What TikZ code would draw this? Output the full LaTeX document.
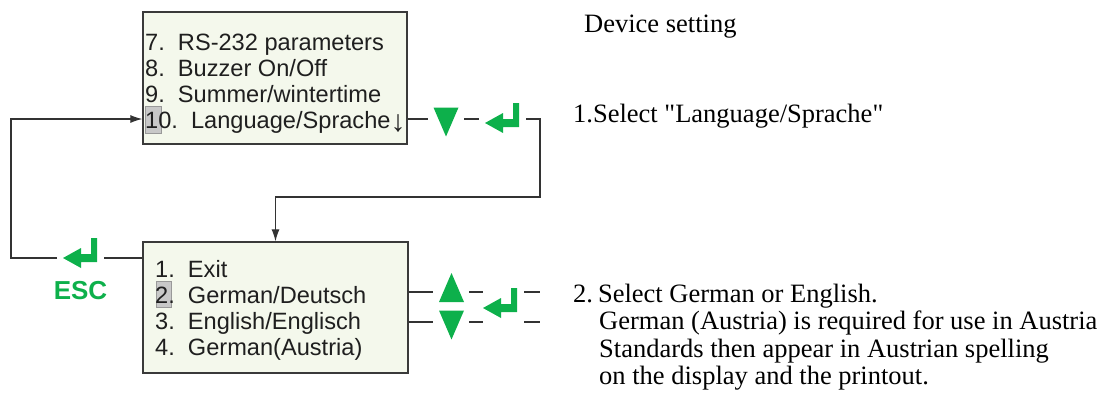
\documentclass[tikz,border=0pt]{standalone}
\usepackage{fontspec}
\setmainfont{Liberation Serif}
\setsansfont{Liberation Sans}
\usetikzlibrary{arrows.meta}
\definecolor{keygreen}{HTML}{0DB04B}
\definecolor{boxfill}{HTML}{F4F8EC}
\definecolor{boxline}{HTML}{3A3A3A}
\definecolor{linegray}{HTML}{333333}
\definecolor{cursorfill}{HTML}{C8C8C8}
\newcommand\dq{\XeTeXglyph\XeTeXcharglyph"22\relax}
\newcommand\scrolldown{\raisebox{-3pt}{\fontsize{30}{30}\selectfont ↓}}
\tikzset{
  menubox/.style={draw=boxline, fill=boxfill, line width=1.3pt, inner sep=0pt},
  menutext/.style={anchor=base west, inner sep=0pt, text=black!88, font=\sffamily\fontsize{23.6}{26}\selectfont},
  notetext/.style={anchor=base west, inner sep=0pt, font=\rmfamily\fontsize{26.5}{27}\selectfont},
  cursorbox/.style={fill=cursorfill, draw=black!40, line width=0.9pt},
  wire/.style={draw=linegray, line width=1.2pt},
  flow/.style={wire, -{Latex[length=12pt,width=8pt]}},
  downkey/.pic={\fill[keygreen] (-12.5,-14.5) -- (12.5,-14.5) -- (0,14.5) -- cycle;},
  upkey/.pic={\fill[keygreen] (-12.5,14.5) -- (12.5,14.5) -- (0,-14.5) -- cycle;},
  enterkey/.pic={\fill[keygreen] (0,0) -- (18,-10) -- (18,-4) -- (28,-4) -- (28,-20)
    -- (34,-20) -- (34,4) -- (18,4) -- (18,10) -- cycle;}
}
\begin{document}
\begin{tikzpicture}[x=1pt, y=-1pt]
  \useasboundingbox (0,0) rectangle (1102,394);

  % menu boxes
  \node[menubox, minimum width=264pt, minimum height=132pt] (topbox) at (275,78) {};
  \node[menubox, minimum width=265pt, minimum height=131pt] (botbox) at (275.5,307.5) {};

  % cursor marks
  \draw[cursorbox] (145,106) rectangle (161,133);
  \draw[cursorbox] (156,281) rectangle (171,307);

  \foreach \txt [count=\i] in {7.\ \ RS-232 parameters, 8.\ \ Buzzer On/Off,
      9.\ \ Summer/wintertime, 10.\ \ Language/Sprache\scrolldown}
    \node[menutext] (top\i) at (145,24+26*\i) {\txt};
  \foreach \txt [count=\i] in {1.\ \ Exit, 2.\ \ German/Deutsch,
      3.\ \ English/Englisch, 4.\ \ German(Austria)}
    \node[menutext] (bot\i) at (155,251+26*\i) {\txt};

  % ESC loop back
  \coordinate (escR) at (104,258);
  \coordinate (escL) at (57,258);
  \coordinate (loopTL) at (11,119);
  \draw[wire] (botbox.west |- escR) -- (escR);
  \draw[flow] (escL) -| (loopTL) -- (topbox.west |- loopTL);
  \pic at (63,258) {enterkey};
  \node[anchor=base, inner sep=0pt, text=keygreen, font=\sffamily\bfseries\fontsize{26}{26}\selectfont] (esc) at (80.5,299) {ESC};

  % select language
  \coordinate (selA) at (428,119);
  \coordinate (selB) at (464,119);
  \coordinate (selC) at (479,119);
  \coordinate (selD) at (526,119);
  \coordinate (retB) at (540,197);
  \draw[wire] (topbox.east |- selA) -- (selA);
  \draw[wire] (selB) -- (selC);
  \draw[flow] (selD) -| (retB) -| (botbox.north);
  \pic at (446,122) {downkey};
  \pic at (485,123) {enterkey};

  % select German/English
  \foreach \y in {292,322} {
    \coordinate (row) at (0,\y);
    \draw[wire] (botbox.east |- row) -- (433,\y);
    \draw[wire] (469,\y) -- (483,\y);
    \draw[wire] (524,\y) -- (540,\y);
  }
  \pic at (451.5,287.5) {upkey};
  \pic at (451.5,325) {downkey};
  \pic at (483,308) {enterkey};

  % notes
  \node[notetext] (title) at (584,32) {Device setting};
  \node[notetext] (step1) at (573,122) {1.Select \dq Language/Sprache\dq};
  \node[notetext] (step2) at (573,302) {2.\hspace{5pt}Select German or English.};
  \foreach \txt [count=\i] in {German (Austria) is required for use in Austria,
      Standards then appear in Austrian spelling, on the display and the printout.}
    \node[notetext] (note\i) at (599,302+27.5*\i) {\txt};
\end{tikzpicture}
\end{document}
